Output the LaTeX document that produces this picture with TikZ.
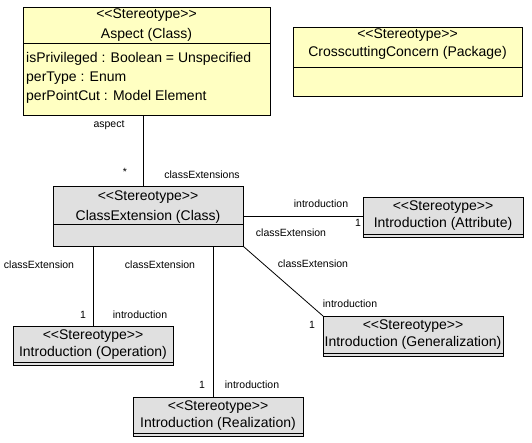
\documentclass[tikz,border=0pt]{standalone}
\usepackage{fontspec}
\setmainfont{Liberation Sans}
\usetikzlibrary{calc}
\definecolor{umlyellow}{RGB}{255,255,194}
\definecolor{umlgray}{RGB}{224,224,224}
\newcommand\boxfont{\fontsize{14}{16}\selectfont}
\newcommand\lblfont{\fontsize{10.5}{12}\selectfont}
\newcommand\stereo{<\kern0pt<Stereotype>\kern0pt>}
\tikzset{
  umlbox/.style={draw, line width=0.8pt, anchor=north west, inner sep=0pt},
  boxtext/.style={font=\boxfont, inner sep=0pt},
  lbl/.style={font=\lblfont, inner sep=0pt},
  assoc/.style={line width=0.8pt},
}

\begin{document}
\begin{tikzpicture}[x=1pt, y=-1pt]
  \useasboundingbox (0,0) rectangle (532,443);
  % stereotype boxes
  \node[umlbox, fill=umlyellow, minimum width=247pt, minimum height=108pt] (aspect) at (23,7) {};
  \node[umlbox, fill=umlyellow, minimum width=229pt, minimum height=69pt] (concern) at (293,27) {};
  \node[umlbox, fill=umlgray, minimum width=190pt, minimum height=60pt] (ext) at (53,186) {};
  \node[umlbox, fill=umlgray, minimum width=160pt, minimum height=40pt] (attr) at (363,197) {};
  \node[umlbox, fill=umlgray, minimum width=180pt, minimum height=40pt] (gen) at (323,316) {};
  \node[umlbox, fill=umlgray, minimum width=160pt, minimum height=39pt] (oper) at (13,326) {};
  \node[umlbox, fill=umlgray, minimum width=170pt, minimum height=39pt] (real) at (133,397) {};

  % compartments
  \draw[line width=0.8pt] (23,43) -- (270,43);
  \draw[line width=0.8pt] (293,67) -- (522,67);
  \draw[line width=0.8pt] (53,224) -- (243,224);
  \draw[line width=0.8pt] (363,234) -- (523,234);
  \draw[line width=0.8pt] (323,353) -- (503,353);
  \draw[line width=0.8pt] (13,362) -- (173,362);
  \draw[line width=0.8pt] (133,433) -- (303,433);

  % box texts
  \node[boxtext] at (146.5,15) {\stereo};
  \node[boxtext] at (146.5,35) {Aspect (Class)};
  \node[boxtext, anchor=west] at (26,59) {isPrivileged : Boolean = Unspecified};
  \node[boxtext, anchor=west] at (26,78) {perType : Enum};
  \node[boxtext, anchor=west] at (26,97) {perPointCut : Model Element};
  \node[boxtext] at (407.5,35) {\stereo};
  \node[boxtext] at (407.5,53) {CrosscuttingConcern (Package)};
  \node[boxtext] at (148,197) {\stereo};
  \node[boxtext] at (148,217) {ClassExtension (Class)};
  \node[boxtext] at (443,207) {\stereo};
  \node[boxtext] at (443,224) {Introduction (Attribute)};
  \node[boxtext] at (413,326) {\stereo};
  \node[boxtext] at (413,343) {Introduction (Generalization)};
  \node[boxtext] at (93,336) {\stereo};
  \node[boxtext] at (93,353) {Introduction (Operation)};
  \node[boxtext] at (218,407) {\stereo};
  \node[boxtext] at (218,424) {Introduction (Realization)};

  % associations
  \draw[assoc] (aspect.south -| 143,0) -- (ext.north -| 143,0);
  \draw[assoc] (ext.east) -- (ext.east -| attr.west);
  \draw[assoc] (ext.south -| 93,0) -- (oper.north -| 93,0);
  \draw[assoc] (ext.south -| 213,0) -- (real.north -| 213,0);
  \draw[assoc] (ext.south east) -- (gen.north west);

  % role names and multiplicities
  \node[lbl] at (109,125) {aspect};
  \node[lbl] at (125,172) {*};
  \node[lbl] at (202,175) {classExtensions};
  \node[lbl] at (321,204) {introduction};
  \node[lbl] at (358,223) {1};
  \node[lbl] at (291,233) {classExtension};
  \node[lbl] at (39,265) {classExtension};
  \node[lbl] at (160,265) {classExtension};
  \node[lbl] at (313,264) {classExtension};
  \node[lbl] at (83,315) {1};
  \node[lbl] at (140,315) {introduction};
  \node[lbl] at (350,304) {introduction};
  \node[lbl] at (312,325) {1};
  \node[lbl] at (202,385) {1};
  \node[lbl] at (252,385) {introduction};
\end{tikzpicture}
\end{document}
